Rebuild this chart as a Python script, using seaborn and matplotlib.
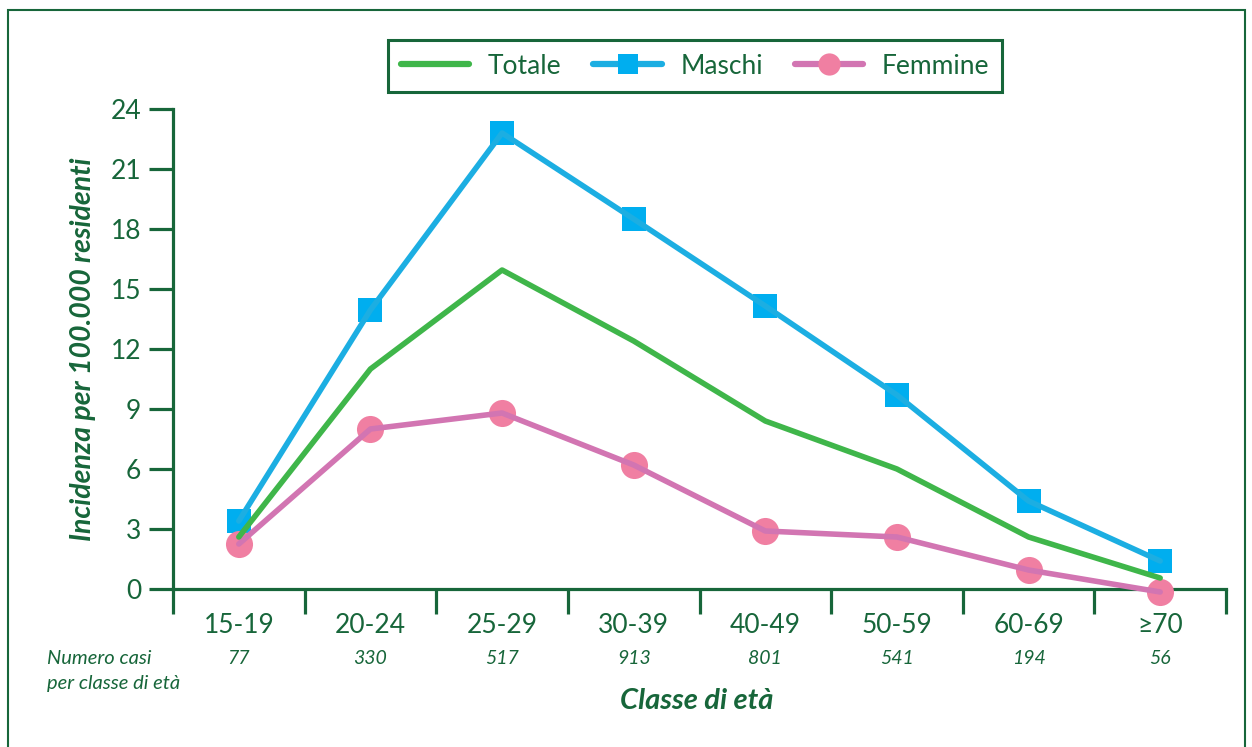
import matplotlib
matplotlib.use("Agg")
import matplotlib.pyplot as plt
from matplotlib.lines import Line2D
from matplotlib.patches import Rectangle
import numpy as np
import pandas as pd
import seaborn as sns

sns.set_theme(style="white")
plt.rcParams["font.family"] = ["Lato", "DejaVu Sans"]

GREEN_TXT = "#17663A"
GREEN_TOT = "#3FB64A"
BLUE_LINE = "#1CAEE2"
BLUE_MARK = "#00AEEF"
PINK_LINE = "#D275B2"
PINK_MARK = "#F07FA2"

classi = ["15-19", "20-24", "25-29", "30-39", "40-49", "50-59", "60-69", "\u226570"]
casi = [77, 330, 517, 913, 801, 541, 194, 56]
totale = [2.6, 11.0, 15.95, 12.4, 8.4, 6.0, 2.6, 0.55]
maschi = [3.4, 13.95, 22.8, 18.5, 14.15, 9.7, 4.4, 1.4]
femmine = [2.25, 8.0, 8.8, 6.2, 2.9, 2.6, 0.95, -0.15]

df = pd.DataFrame({"x": np.arange(len(classi)), "Totale": totale,
                   "Maschi": maschi, "Femmine": femmine})

fig = plt.figure(figsize=(12.52, 7.47), dpi=100)
ax = fig.add_axes([173 / 1252, 1 - 589 / 747, (1226 - 173) / 1252, (589 - 109) / 747])

# markers first, lines on top
sns.scatterplot(data=df, x="x", y="Maschi", marker="s", s=300, color=BLUE_MARK,
                linewidth=0, ax=ax, zorder=3, clip_on=False)
sns.scatterplot(data=df, x="x", y="Femmine", marker="o", s=380, color=PINK_MARK,
                linewidth=0, ax=ax, zorder=3, clip_on=False)
sns.lineplot(data=df, x="x", y="Maschi", color=BLUE_LINE, lw=4, ax=ax, zorder=4)
sns.lineplot(data=df, x="x", y="Femmine", color=PINK_LINE, lw=4, ax=ax, zorder=4,
             clip_on=False)
sns.lineplot(data=df, x="x", y="Totale", color=GREEN_TOT, lw=4, ax=ax, zorder=4)

ax.set_xlim(-0.5, len(classi) - 0.5)
ax.set_ylim(0, 24)
ax.set_yticks(range(0, 25, 3))
ax.set_xticks(range(len(classi)))
ax.set_xticklabels(classi)
ax.set_xticks(np.arange(-0.5, len(classi)), minor=True)
for s in ["top", "right"]:
    ax.spines[s].set_visible(False)
for s in ["left", "bottom"]:
    ax.spines[s].set_color(GREEN_TXT)
    ax.spines[s].set_linewidth(2.3)
ax.tick_params(axis="y", which="major", length=17, width=2.3, color=GREEN_TXT,
               labelcolor=GREEN_TXT, labelsize=19, pad=6, left=True)
ax.tick_params(axis="x", which="major", length=0, labelcolor=GREEN_TXT,
               labelsize=19, pad=17)
ax.tick_params(axis="x", which="minor", length=18, width=2.3, color=GREEN_TXT,
               bottom=True)
ax.set_xlabel("")
ax.set_ylabel("Incidenza per 100.000 residenti", fontsize=20.5, fontweight="bold",
              fontstyle="italic", color=GREEN_TXT, labelpad=10)

# numero casi row
for i, n in enumerate(casi):
    ax.annotate(str(n), xy=(i, 0), xycoords=("data", "axes fraction"),
                xytext=(0, -50), textcoords="offset points", ha="center", va="center",
                fontsize=14, fontstyle="italic", color=GREEN_TXT)
fig.text(47 / 1252, 1 - 658 / 747, "Numero casi", fontsize=14.5, fontstyle="italic",
         color=GREEN_TXT, va="center", ha="left")
fig.text(47 / 1252, 1 - 683 / 747, "per classe di et\u00e0", fontsize=14.5,
         fontstyle="italic", color=GREEN_TXT, va="center", ha="left")
fig.text(697 / 1252, 1 - 701 / 747, "Classe di et\u00e0", fontsize=21,
         fontweight="bold", fontstyle="italic", color=GREEN_TXT, ha="center", va="center")

handles = [
    Line2D([], [], color=GREEN_TOT, lw=4.5),
    Line2D([], [], color=BLUE_LINE, lw=4.5, marker="s", markersize=14,
           markerfacecolor=BLUE_MARK, markeredgewidth=0),
    Line2D([], [], color=PINK_LINE, lw=4.5, marker="o", markersize=16,
           markerfacecolor=PINK_MARK, markeredgewidth=0),
]
leg = fig.legend(handles, ["Totale", "Maschi", "Femmine"], loc="center",
                 bbox_to_anchor=(695 / 1252, 1 - 66 / 747), ncol=3, fontsize=19,
                 frameon=True, fancybox=False, edgecolor=GREEN_TXT, framealpha=1,
                 handlelength=2.6, columnspacing=1.2, handletextpad=0.7,
                 borderpad=0.5, borderaxespad=0)
leg.get_frame().set_linewidth(2.2)
for t in leg.get_texts():
    t.set_color(GREEN_TXT)

# outer frame
fig.patches.append(Rectangle((8 / 1252, -0.05), (1245 - 8) / 1252, 1.05 - 10 / 747,
                             transform=fig.transFigure, fill=False,
                             edgecolor=GREEN_TXT, lw=1.5))

fig.savefig("out.png", dpi=100)
